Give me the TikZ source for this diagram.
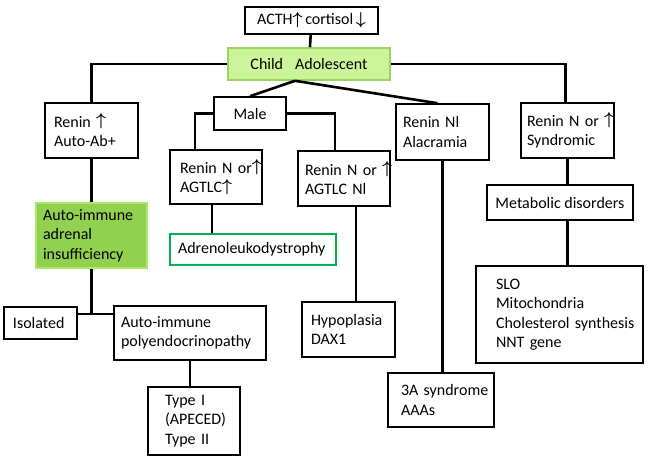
\documentclass[tikz,border=0pt]{standalone}
\usepackage{fontspec}
\setmainfont{Carlito}
\usepackage{xcolor}
\usepackage{tikz}
\usetikzlibrary{positioning}

\definecolor{childfill}{HTML}{CCF59A}
\definecolor{childdraw}{HTML}{9BD55F}
\definecolor{aaifill}{HTML}{92D050}
\definecolor{aaidraw}{HTML}{A8EA6C}
\definecolor{alddraw}{HTML}{00B050}

\newcommand{\arrup}{\raisebox{1.5pt}{\boldmath$\big\uparrow$}}
\newcommand{\smallup}{{\boldmath$\uparrow$}}
\newcommand{\smalldn}{{\boldmath$\downarrow$}}

\tikzset{pad/.style={execute at begin node={\leftskip=#1}}}

\begin{document}
\begin{tikzpicture}[x=1pt,y=-1pt]
		\tikzstyle{every node}=[font=\fontsize{16}{19.5}\selectfont]
		\tikzstyle{box}=[draw=black, line width=1.6pt, fill=white, inner sep=0pt, align=left]
		\tikzstyle{child_box}=[box, draw=childdraw, fill=childfill]
		\tikzstyle{aai_box}=[box, draw=aaidraw, fill=aaifill]
		\tikzstyle{ald_box}=[box, draw=alddraw]
		\tikzstyle{link}=[line width=2.6pt]

		\useasboundingbox (0,0) rectangle (653,467);

		\node [box, minimum width=133pt, minimum height=27pt, align=center] (acth) at (311.5,20.5) {ACTH\smallup\,cortisol\,\smalldn};
		\node [child_box, minimum width=162pt, minimum height=32pt, align=center] (child) at (309,64) {Child\hspace{12pt}Adolescent};

		\node [box, minimum width=93pt, minimum height=55pt, text width=91pt, pad=8pt] (renA) at (91.5,130.5) {Renin~\arrup\\Auto-Ab+};
		\node [aai_box, minimum width=111pt, minimum height=65pt, text width=109pt, pad=6pt] (aai) at (91.5,235.5) {Auto-immune\\adrenal\\insufficiency};
		\node [box, minimum width=73pt, minimum height=32pt, text width=71pt, pad=8pt] (isolated) at (40.5,323) {Isolated};
		\node [box, minimum width=152pt, minimum height=54pt, text width=150pt, pad=6pt] (aip) at (190,333) {Auto-immune\\polyendocrinopathy};
		\node [box, minimum width=92pt, minimum height=68pt, text width=90pt, pad=16pt] (type) at (194,421) {Type~I\\(APECED)\\Type~II};

		\node [box, minimum width=72pt, minimum height=33pt, align=center] (male) at (250,113.5) {Male};
		\node [box, minimum width=92pt, minimum height=54pt, text width=90pt, pad=9pt] (renB) at (216,177) {Renin~N~or\arrup\\AGTLC\arrup};
		\node [ald_box, minimum width=166pt, minimum height=31pt, text width=164pt, pad=7pt] (ald) at (253,249.5) {Adrenoleukodystrophy};
		\node [box, minimum width=92pt, minimum height=55pt, text width=90pt, pad=6pt] (renE) at (344,178.5) {Renin~N~or~\arrup\\AGTLC~Nl};
		\node [box, minimum width=93pt, minimum height=55pt, text width=91pt, pad=8pt] (hypo) at (348.5,329.5) {Hypoplasia\\DAX1};

		\node [box, minimum width=93pt, minimum height=56pt, text width=91pt, pad=6pt] (renC) at (442.5,132) {Renin~Nl\\Alacramia};
		\node [box, minimum width=106pt, minimum height=54pt, text width=104pt, pad=12pt] (aaa) at (441,400) {3A~syndrome\\AAAs};

		\node [box, minimum width=93pt, minimum height=55pt, text width=91pt, pad=5pt] (renD) at (567.5,130.5) {Renin~N~or~\arrup\\Syndromic};
		\node [box, minimum width=146pt, minimum height=35pt, align=center] (meta) at (560,202.5) {Metabolic disorders};
		\node [box, minimum width=167pt, minimum height=97pt, text width=165pt, pad=19pt] (slo) at (559.5,314.5) {SLO\\Mitochondria\\Cholesterol~synthesis\\NNT~gene};

		\coordinate (fork) at ([xshift=-14pt]child.south);
		\coordinate (join) at ([yshift=9pt]isolated.east -| aai.south);

	\draw [link] (acth) -- (child);
	\draw [link] (child.west) -| (renA.north);
	\draw [link] (child.east) -| ([xshift=-2pt]renD.north);
	\draw [link] (fork) -- (male.north);
	\draw [link] (fork) -- ([xshift=-5pt]renC.north);

	\draw [link] (renA) -- (aai);
	\draw [link] (aai.south) -- (join);
	\draw [link] (isolated.east |- join) -- (aip.west |- join);
	\draw [link] (aip.south) -- (aip.south |- type.north);

	\draw [link] (male.west) -| ([xshift=-21pt]renB.north);
	\draw [link] (male.east) -| ([xshift=-9pt]renE.north);
	\draw [link] ([xshift=-4pt]renB.south) -- ([xshift=-4pt]renB.south |- ald.north);
	\draw [link] ([xshift=12pt]renE.south) -- ([xshift=12pt]renE.south |- hypo.north);

	\draw [link] (renC.south) -- (renC.south |- aaa.north);
	\draw [link] (renD.south) -- (renD.south |- meta.north);
	\draw [link] (renD.south |- meta.south) -- (renD.south |- slo.north);

	\end{tikzpicture}
\end{document}
